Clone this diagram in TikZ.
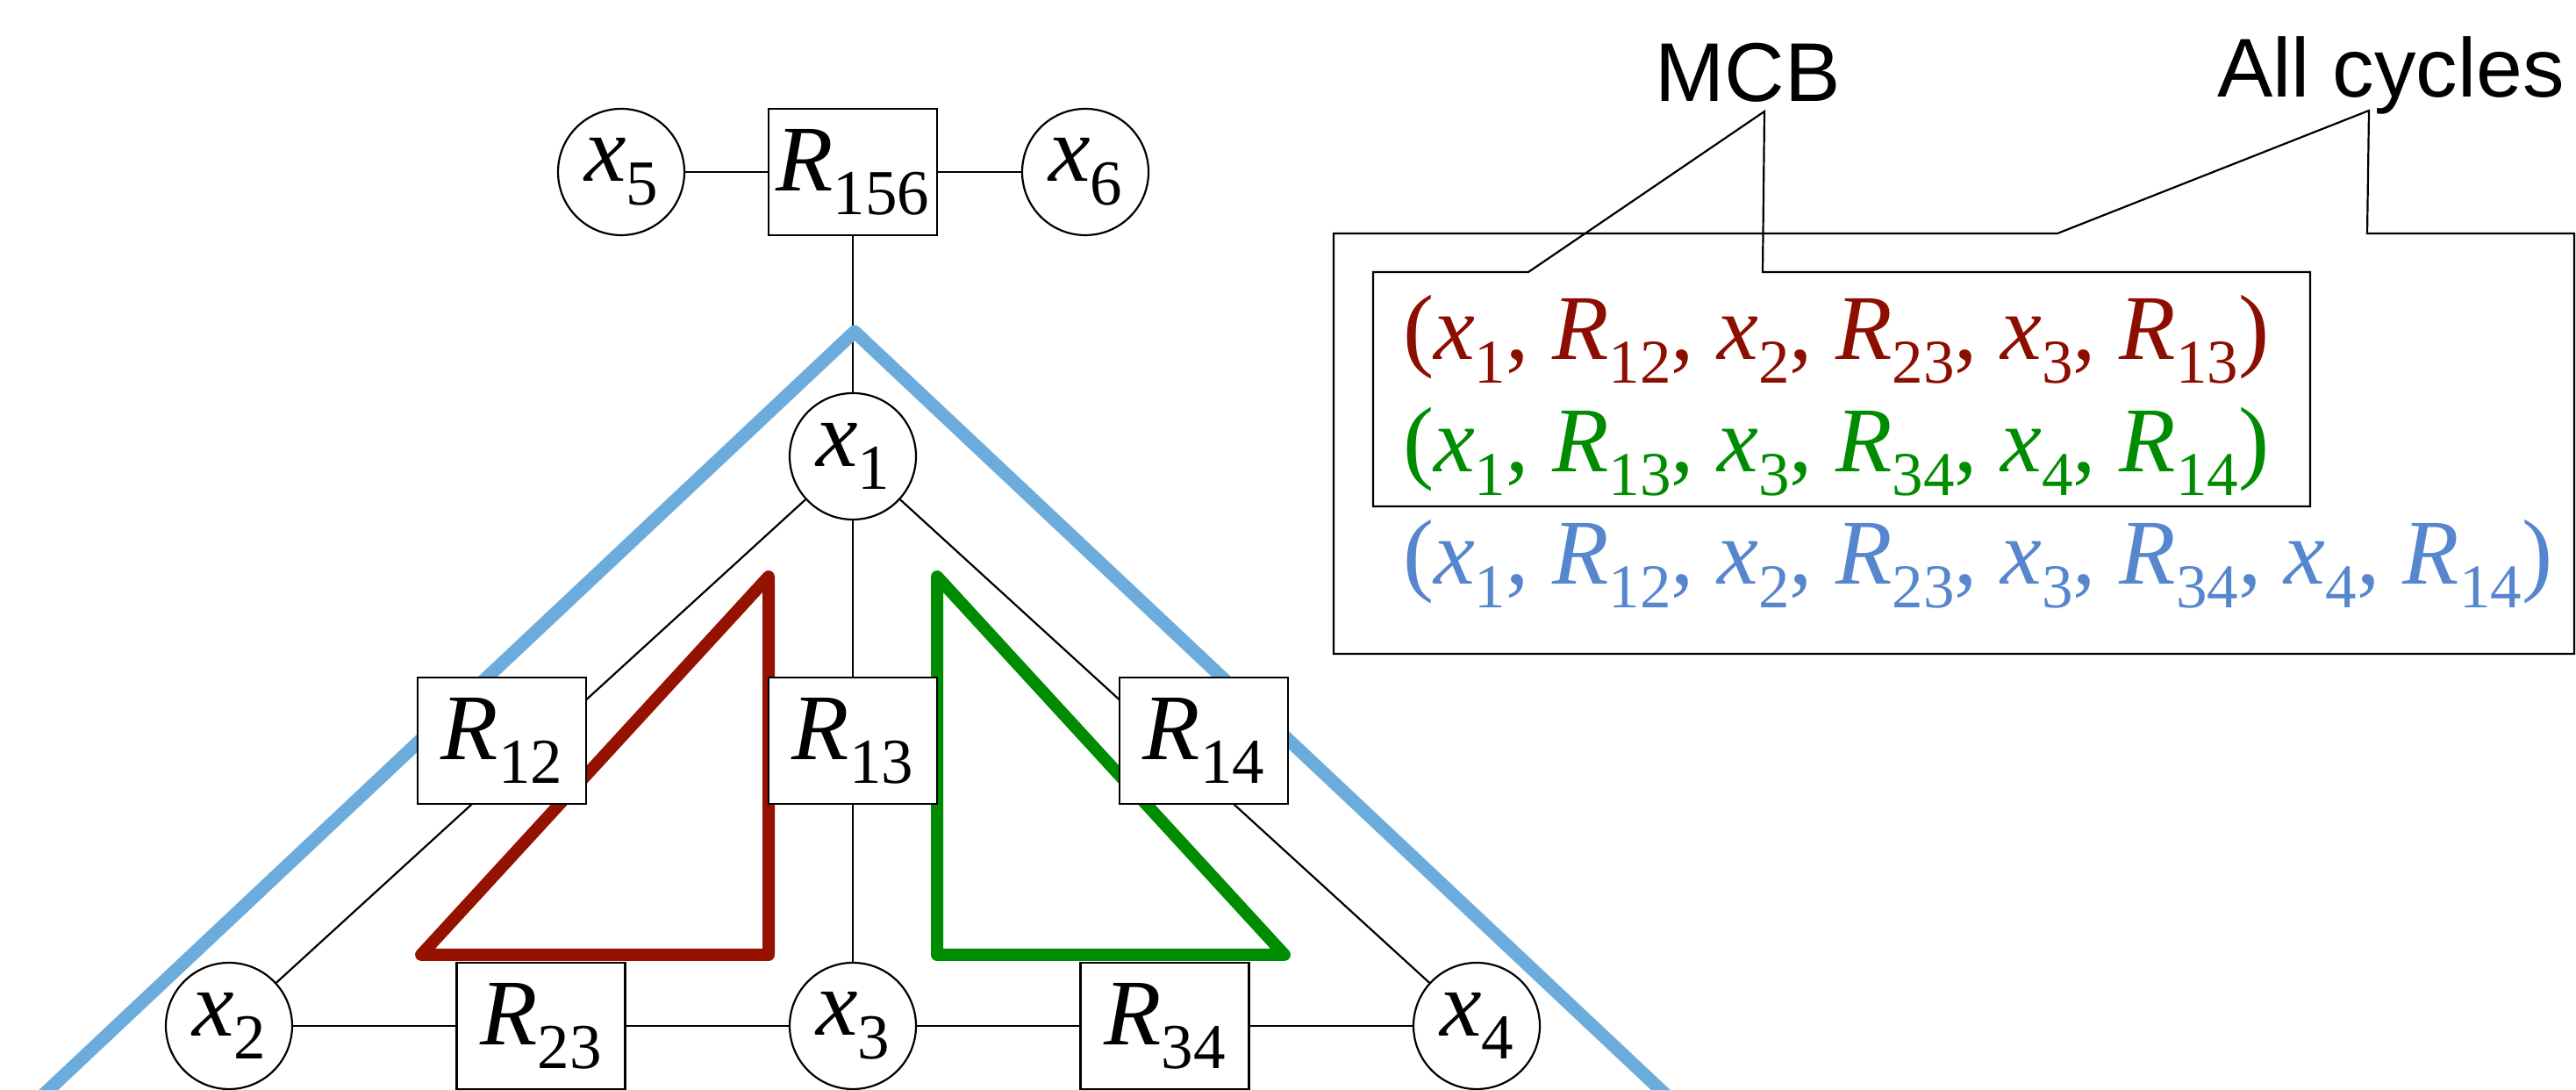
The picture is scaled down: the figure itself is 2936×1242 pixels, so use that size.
\documentclass[tikz,border=0pt]{standalone}
\usepackage{fontspec}
\setmainfont{Liberation Serif}
\newfontfamily\arialf{Liberation Sans}
\definecolor{cycred}{RGB}{150,18,0}
\definecolor{cycgreen}{RGB}{0,140,0}
\definecolor{cycblue}{RGB}{108,172,220}
\definecolor{txtred}{RGB}{140,14,0}
\definecolor{txtgreen}{RGB}{0,140,0}
\definecolor{txtblue}{RGB}{86,134,206}
\newcommand{\vs}[2]{\textit{#1}\raisebox{-0.25em}{\fontsize{7.3}{8}\selectfont #2}}
\newcommand{\ls}[2]{\textit{#1}\raisebox{-0.25em}{\fontsize{7.1}{8}\selectfont #2}}
\pgfdeclarelayer{bg}
\pgfsetlayers{bg,main}
\begin{document}
\begin{tikzpicture}[x=0.1pt,y=-0.1pt,
  link/.style={line width=0.22pt},
  varnode/.style={circle, draw, line width=0.22pt, fill=white, minimum size=14.4pt, inner sep=0pt},
  relnode/.style={rectangle, draw, line width=0.22pt, fill=white, minimum width=19.2pt, minimum height=14.4pt, inner sep=0pt},
  cyc/.style={line width=1.4pt, line join=round, line cap=round},
  every node/.style={font=\fontsize{10.7}{12}\selectfont},
  labelsans/.style={font=\arialf\fontsize{9.5}{11}\selectfont, anchor=base, inner sep=0pt},
  cyclist/.style={anchor=base west, inner sep=0pt, font=\fontsize{10.55}{12}\selectfont}
]
\useasboundingbox (0,0) rectangle (2936,1242);
\clip (0,0) rectangle (2936,1242);

% nodes
\node[varnode] (x5) at (708,196) {\vs{x}{5}};
\node[relnode] (R156) at (972,196) {\vs{R}{156}};
\node[varnode] (x6) at (1237,196) {\vs{x}{6}};
\node[varnode] (x1) at (972,520) {\vs{x}{1}};
\node[relnode] (R12) at (572,844) {\vs{R}{12}};
\node[relnode] (R13) at (972,844) {\vs{R}{13}};
\node[relnode] (R14) at (1372,844) {\vs{R}{14}};
\node[varnode] (x2) at (261,1169) {\vs{x}{2}};
\node[relnode] (R23) at (616.5,1169) {\vs{R}{23}};
\node[varnode] (x3) at (972,1169) {\vs{x}{3}};
\node[relnode] (R34) at (1327.5,1169) {\vs{R}{34}};
\node[varnode] (x4) at (1683,1169) {\vs{x}{4}};

\begin{pgfonlayer}{bg}
  \draw[link] (x5) -- (R156) -- (x6);
  \draw[link] (R156) -- (x1);
  \draw[link] (x1) -- (x2);
  \draw[link] (x1) -- (x3);
  \draw[link] (x1) -- (x4);
  \draw[link] (x2) -- (R23) -- (x3) -- (R34) -- (x4);
  % cycles
  \draw[line width=1.5pt, cycblue, line join=round] (34,1262) -- (974,378) -- (1914,1262);
  \draw[cyc, cycred] (876,657) -- (876,1088) -- (480,1088) -- cycle;
  \draw[cyc, cycgreen] (1068,657) -- (1068,1088) -- (1464,1088) -- cycle;
\end{pgfonlayer}

% labels
\node[labelsans] (mcb) at (1992,116) {MCB};
\node[labelsans] (allc) at (2725,110.5) {All cycles};
\coordinate (mcbtip) at (2011,127);
\coordinate (alltip) at (2700,126);

% callout boxes
\draw[link] (1520,266) -- (2345,266) -- (alltip) -- (2698,266) -- (2934,266) -- (2934,745) -- (1520,745) -- cycle;
\draw[link] (1565,310) -- (1742,310) -- (mcbtip) -- (2009,310) -- (2633,310) -- (2633,577) -- (1565,577) -- cycle;

% cycle lists
\node[cyclist, text=txtred] (c1) at (1597,410) {(\ls{x}{1}, \ls{R}{12}, \ls{x}{2}, \ls{R}{23}, \ls{x}{3}, \ls{R}{13})};
\node[cyclist, text=txtgreen] (c2) at (1597,538) {(\ls{x}{1}, \ls{R}{13}, \ls{x}{3}, \ls{R}{34}, \ls{x}{4}, \ls{R}{14})};
\node[cyclist, text=txtblue] (c3) at (1597,666) {(\ls{x}{1}, \ls{R}{12}, \ls{x}{2}, \ls{R}{23}, \ls{x}{3}, \ls{R}{34}, \ls{x}{4}, \ls{R}{14})};
\end{tikzpicture}
\end{document}
